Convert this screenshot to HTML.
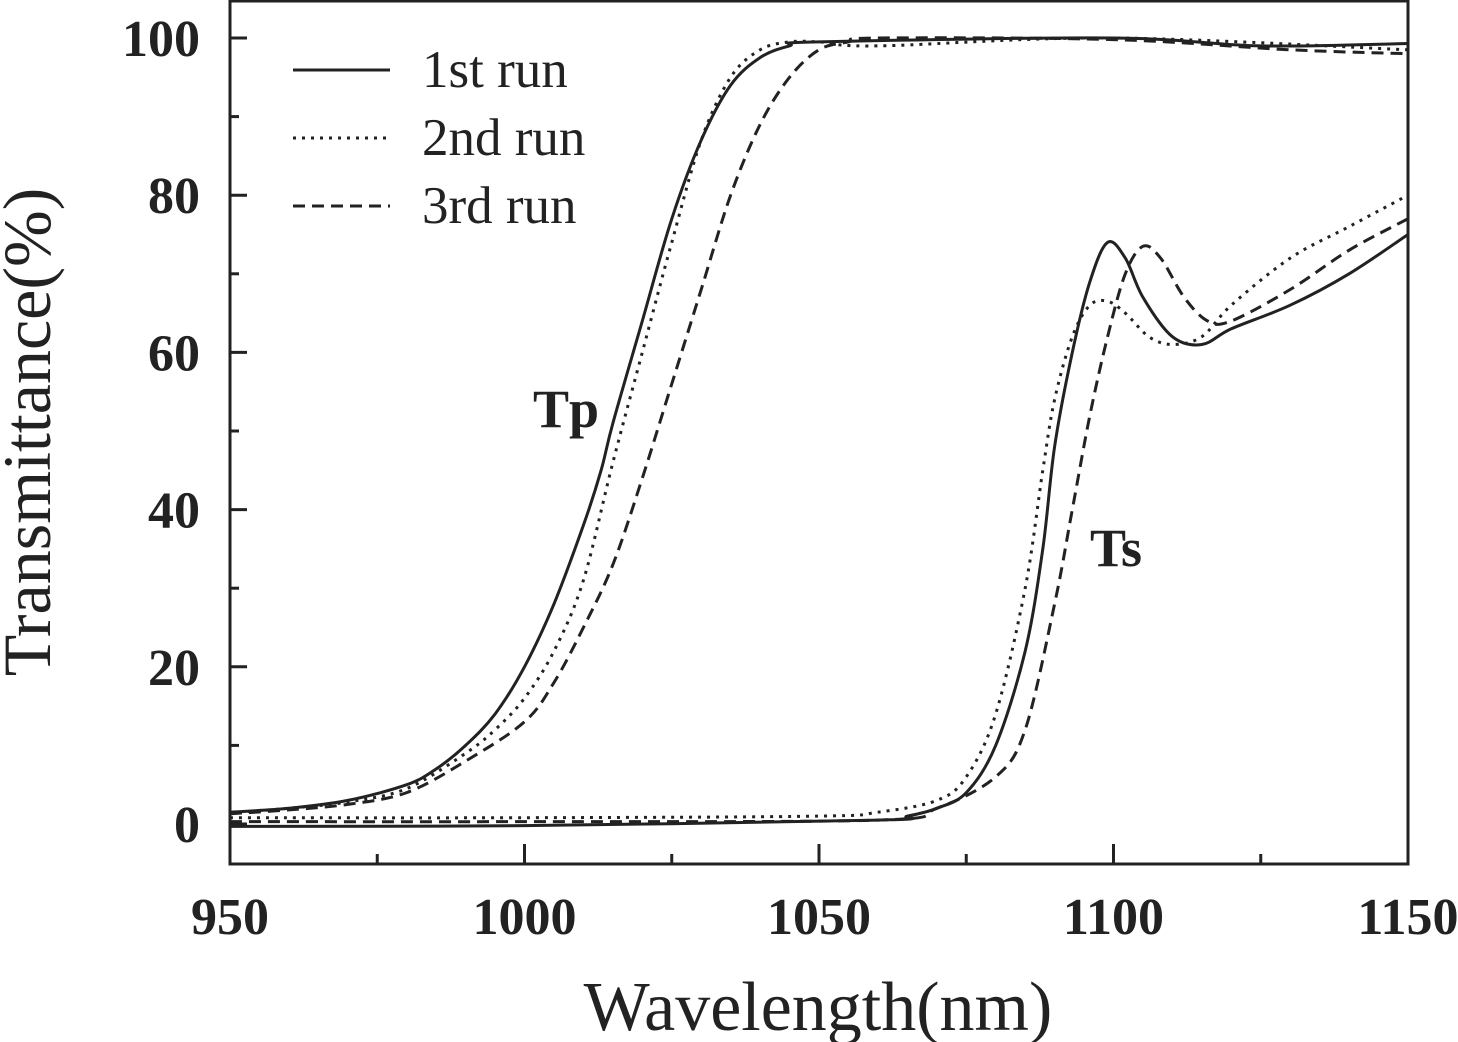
<!DOCTYPE html>
<html><head><meta charset="utf-8"><style>body{margin:0;background:#fff}svg{display:block}</style></head>
<body>
<svg id="c" width="1458" height="1042" xmlns="http://www.w3.org/2000/svg" font-family="Liberation Serif, serif"></svg>
<script>
const xTicks=[950,1000,1050,1100,1150];
const yTicks=[0,20,40,60,80,100];
const tp1x=[950,960,970,980,985,990,995,1000,1005,1010,1013,1015,1020,1025,1030,1035,1040,1045,1050,1100,1125,1150];
const tp1y=[1.5,2,3,5,7,10,14,20,28,38,45,51,64,77,87,94,97.5,99,99.5,100,99,99.3];
const tp2x=[950,960,970,980,990,995,1000,1005,1010,1015,1020,1025,1030,1035,1040,1045,1050,1060,1100,1150];
const tp2y=[1.4,2,2.8,4.5,9,12,16,22,31,46,60,74,87,95,98.5,99.5,99.5,99,100,98.5];
const tp3x=[950,960,970,980,990,1000,1005,1010,1015,1020,1025,1030,1035,1040,1045,1050,1055,1060,1100,1130,1150];
const tp3y=[1.3,1.8,2.5,4,8,13,18,25,33,44,56,68,80,89,95,98.5,99.5,100,99.8,98.5,98];
const ts1x=[950,1000,1060,1065,1070,1075,1080,1085,1088,1090,1093,1096,1099,1102,1105,1110,1115,1120,1130,1140,1150];
const ts1y=[-0.3,-0.2,0.5,1,2,4,10,22,35,48,60,69,74,72,67,62,61,63,66,70,75];
const ts2x=[950,1000,1050,1060,1070,1075,1080,1085,1088,1090,1093,1096,1099,1102,1106,1110,1115,1120,1130,1140,1150];
const ts2y=[0.8,0.8,1,1.5,3,6,14,30,45,54,62,66,66.5,65,62,61,62,66,72,76,80];
const ts3x=[950,1000,1060,1070,1080,1085,1090,1093,1096,1099,1102,1105,1108,1112,1116,1120,1130,1140,1150];
const ts3y=[0.3,0.3,0.5,2,6,12,28,40,52,62,70,73.5,72,67,64,64,68,73,77];
const X0=230,X1=1408,Y0=824,Y100=38,YB=864;
const sx=v=>X0+(v-950)*(X1-X0)/200;
const sy=v=>Y0+(v)*(Y100-Y0)/100;
const svg=document.getElementById('c');
const NS='http://www.w3.org/2000/svg';
function mk(t,a,txt){const e=document.createElementNS(NS,t);for(const k in a)e.setAttribute(k,a[k]);if(txt!==undefined)e.textContent=txt;svg.appendChild(e);return e;}
let e=mk('rect',{x:X0,y:1,width:X1-X0,height:YB-1,fill:'none',stroke:'#222','stroke-width':3});


for(let v=950;v<=1150;v+=25){const maj=xTicks.includes(v);e=mk('line',{x1:sx(v),x2:sx(v),y1:YB,y2:YB-(maj?20:10),stroke:'#222','stroke-width':3});

}
xTicks.forEach(v=>{e=mk('text',{x:sx(v),y:934,'text-anchor':'middle','font-size':52,'font-weight':'bold',fill:'#222'},String(v));

});
for(let v=0;v<=100;v+=10){const maj=yTicks.includes(v);e=mk('line',{x1:X0,x2:X0+(maj?17:9),y1:sy(v),y2:sy(v),stroke:'#222','stroke-width':3});

}
yTicks.forEach(v=>{e=mk('text',{x:200,y:sy(v)+18,'text-anchor':'end','font-size':52,'font-weight':'bold',fill:'#222'},String(v));

});
e=mk('text',{x:818,y:1030,'text-anchor':'middle','font-size':70,fill:'#222'},'Wavelength(nm)');


e=mk('text',{x:0,y:0,transform:'translate(50,432) rotate(-90)','text-anchor':'middle','font-size':68,fill:'#222'},'Transmittance(%)');


const dashes={solid:'',dot:'3 6',dash:'12 7'};
function smooth(pts){let d='M'+pts[0][0].toFixed(1)+','+pts[0][1].toFixed(1);
for(let i=0;i<pts.length-1;i++){const p0=pts[Math.max(i-1,0)],p1=pts[i],p2=pts[i+1],p3=pts[Math.min(i+2,pts.length-1)];
const c1=[p1[0]+(p2[0]-p0[0])/6,p1[1]+(p2[1]-p0[1])/6],c2=[p2[0]-(p3[0]-p1[0])/6,p2[1]-(p3[1]-p1[1])/6];
d+=' C'+c1.map(v=>v.toFixed(1))+' '+c2.map(v=>v.toFixed(1))+' '+p2.map(v=>v.toFixed(1));}
return d;}
function series(xs,ys,st,name){const pts=xs.map((x,i)=>[sx(x),sy(ys[i])]);
const a={d:smooth(pts),fill:'none',stroke:'#222','stroke-width':3,'stroke-linejoin':'round'};if(dashes[st])a['stroke-dasharray']=dashes[st];
e=mk('path',a);

}
series(tp1x,tp1y,'solid','tp-1st-run');series(tp2x,tp2y,'dot','tp-2nd-run');series(tp3x,tp3y,'dash','tp-3rd-run');
series(ts1x,ts1y,'solid','ts-1st-run');series(ts2x,ts2y,'dot','ts-2nd-run');series(ts3x,ts3y,'dash','ts-3rd-run');
[['1st run','solid',70],['2nd run','dot',138],['3rd run','dash',206]].forEach(([t,st,y])=>{
const a={x1:293,x2:390,y1:y,y2:y,stroke:'#222','stroke-width':3};if(dashes[st])a['stroke-dasharray']=dashes[st];
e=mk('line',a);


e=mk('text',{x:422,y:y+17,'font-size':53,fill:'#222'},t);

});
e=mk('text',{x:533,y:427,'font-size':54,'font-weight':'bold',fill:'#222'},'Tp');


e=mk('text',{x:1090,y:566,'font-size':54,'font-weight':'bold',fill:'#222'},'Ts');


</script>
</body></html>
